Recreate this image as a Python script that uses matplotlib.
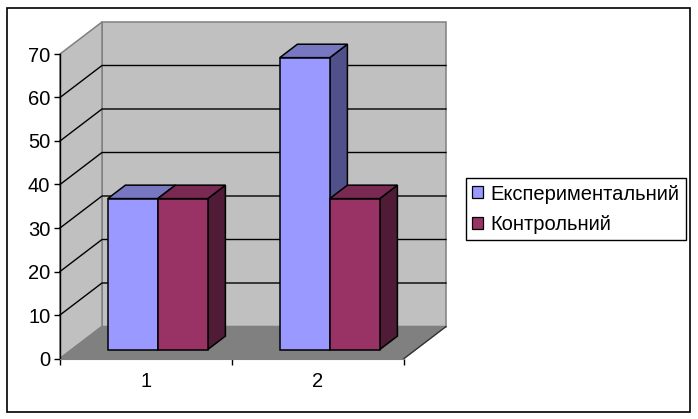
import matplotlib
matplotlib.use('Agg')
import matplotlib.pyplot as plt
from matplotlib.patches import Patch, Rectangle

plt.rcParams['font.family'] = ['Liberation Sans', 'DejaVu Sans']

categories = ['1', '2']
experimental = [34.7, 67.1]
control = [34.7, 34.7]
series_names = ['Експериментальний', 'Контрольний']
y_ticks = [0, 10, 20, 30, 40, 50, 60, 70]

WIDTH, HEIGHT = 698, 419

# colours of each series: front, top, side
blue = ('#9999FF', '#7777C2', '#50508A')
maroon = ('#993366', '#7A2952', '#501B36')

# depth of the 3d box, in data units
depth_x = 42 / 172
depth_y = 32 / 4.35
bar_w = 50 / 172
bar_start = 0.28
bar_depth = 0.42


def proj(x, y, d):
    return x + d * depth_x, y + d * depth_y


def face(ax, pts, color, ec='black', lw=1.1, z=1):
    xs = [proj(*p)[0] for p in pts]
    ys = [proj(*p)[1] for p in pts]
    ax.fill(xs, ys, facecolor=color, edgecolor=ec, linewidth=lw, clip_on=False,
            joinstyle='miter', zorder=z)


def draw_bar(ax, x0, value, colors):
    x1 = x0 + bar_w
    d0 = bar_start
    d1 = bar_start + bar_depth
    face(ax, [(x1, 0, d0), (x1, 0, d1), (x1, value, d1), (x1, value, d0)], colors[2], z=3)
    face(ax, [(x0, value, d0), (x1, value, d0), (x1, value, d1), (x0, value, d1)], colors[1], z=3)
    face(ax, [(x0, 0, d0), (x1, 0, d0), (x1, value, d0), (x0, value, d0)], colors[0], z=3)


fig = plt.figure(figsize=(WIDTH / 100, HEIGHT / 100), dpi=100)
ax = fig.add_axes([60 / WIDTH, (HEIGHT - 358.5) / HEIGHT, 344 / WIDTH, 304.5 / HEIGHT])
ax.set_xlim(0, len(categories))
ax.set_ylim(0, 70)
ax.patch.set_visible(False)

# chart border
fig.add_artist(Rectangle((7.5 / WIDTH, (HEIGHT - 412) / HEIGHT), 682.5 / WIDTH, 404 / HEIGHT,
                         transform=fig.transFigure, fill=False, edgecolor='black', linewidth=1.2))

# walls and floor
n = len(categories)
face(ax, [(0, 0, 1), (n, 0, 1), (n, 70, 1), (0, 70, 1)], '#C0C0C0', ec='#808080')
face(ax, [(0, 0, 0), (0, 0, 1), (0, 70, 1), (0, 70, 0)], '#C0C0C0', ec='#808080')
face(ax, [(0, 0, 0), (n, 0, 0), (n, 0, 1), (0, 0, 1)], '#808080', ec='#808080')

# gridlines run along the side wall and the back wall
for t in y_ticks[1:-1]:
    xs, ys = zip(proj(0, t, 0), proj(0, t, 1), proj(n, t, 1))
    ax.plot(xs, ys, color='black', linewidth=1.0, clip_on=False, zorder=2)
xs, ys = zip(proj(n, 0, 0), proj(n, 0, 1))
ax.plot(xs, ys, color='#303030', linewidth=0.9, clip_on=False, zorder=2)

# bars
for i in range(n):
    x0 = i + 0.5 - bar_w
    draw_bar(ax, x0, experimental[i], blue)
    draw_bar(ax, x0 + bar_w, control[i], maroon)

# axes
ax.set_yticks(y_ticks)
ax.set_xticks(range(n + 1))
ax.set_xticklabels([])
ax.set_xticks([i + 0.5 for i in range(n)], minor=True)
ax.set_xticklabels(categories, minor=True)
ax.tick_params(axis='x', which='major', length=4, width=1, color='black')
ax.tick_params(axis='x', which='minor', length=0, pad=10, labelsize=14.5)
ax.tick_params(axis='y', length=4, width=1, color='black', pad=3, labelsize=14.5)
ax.spines['top'].set_visible(False)
ax.spines['right'].set_visible(False)
ax.spines['left'].set_linewidth(1.0)
ax.spines['bottom'].set_color('#808080')

handles = [Patch(facecolor=blue[0], edgecolor='black', linewidth=0.9),
           Patch(facecolor=maroon[0], edgecolor='black', linewidth=0.9)]
fig.legend(handles, series_names, loc='upper left',
           bbox_to_anchor=(465.5 / WIDTH, (HEIGHT - 178.5) / HEIGHT),
           fontsize=14.5, frameon=True, fancybox=False, framealpha=1, edgecolor='black',
           borderaxespad=0, borderpad=0.3, labelspacing=0.58,
           handlelength=0.55, handleheight=0.55, handletextpad=0.4)

fig.savefig('out.png', dpi=100)
